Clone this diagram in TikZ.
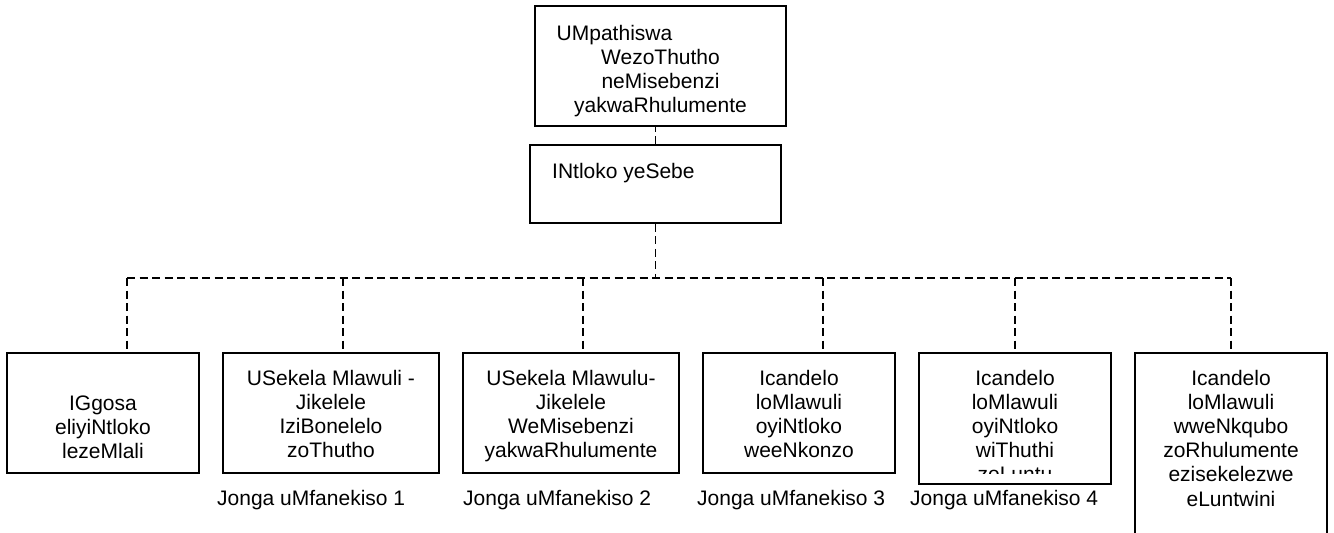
\documentclass[tikz,border=0pt]{standalone}
\usepackage{fontspec}
\setmainfont{Liberation Sans}
\begin{document}
\begin{tikzpicture}[x=1pt,y=-1pt,
  box/.style={draw,line width=1.5pt,inner sep=0pt,minimum width=#1},
  txt/.style={font=\fontsize{21}{24.2}\selectfont,align=center,inner sep=0pt,anchor=base},
  lbl/.style={font=\fontsize{21}{24.2}\selectfont,inner sep=0pt,anchor=base west},
  conn/.style={line width=1.3pt,dash pattern=on 8pt off 4.5pt}]
\useasboundingbox (0,0) rectangle (1334,533);
% boxes
\node[box=251,minimum height=120] (top) at (660.5,66) {};
\node[box=251,minimum height=78] (head) at (655.5,184) {};
\node[box=192,minimum height=120] (b1) at (103,413) {};
\node[box=216,minimum height=120] (b2) at (331,413) {};
\node[box=216,minimum height=120] (b3) at (571,413) {};
\node[box=192,minimum height=120] (b4) at (799,413) {};
\node[box=192,minimum height=131] (b5) at (1015,418.5) {};
\node[box=192,minimum height=192] (b6) at (1231,449) {};
% texts (anchor = baseline of last line)
\node[txt] (ttop) at (660.5,112.6) {UMpathiswa\hspace*{92pt}\\WezoThutho\\neMisebenzi\\yakwaRhulumente};
\node[lbl] (thead) at (552,178) {INtloko yeSebe};
\node[txt] (t1) at (103,458.4) {IGgosa\\eliyiNtloko\\lezeMlali};
\node[txt] (t2) at (331,457.6) {USekela Mlawuli -\\Jikelele\\IziBonelelo\\zoThutho};
\node[txt] (t3) at (571,457.6) {USekela Mlawulu-\\Jikelele\\WeMisebenzi\\yakwaRhulumente};
\node[txt] (t4) at (799,457.6) {Icandelo\\loMlawuli\\oyiNtloko\\weeNkonzo};
\begin{scope}
\clip (919,353) rectangle (1111,473);
\node[txt] (t5) at (1015,481.8) {Icandelo\\loMlawuli\\oyiNtloko\\wiThuthi\\zoLuntu};
\end{scope}
\node[txt] (t6) at (1231,506) {Icandelo\\loMlawuli\\wweNkqubo\\zoRhulumente\\ezisekelezwe\\eLuntwini};
% labels
\node[lbl] (l1) at (217,505) {Jonga uMfanekiso 1};
\node[lbl] (l2) at (463,505) {Jonga uMfanekiso 2};
\node[lbl] (l3) at (697,505) {Jonga uMfanekiso 3};
\node[lbl] (l4) at (910,505) {Jonga uMfanekiso 4};
% connectors
\coordinate (bus) at (655.5,278);
\coordinate (d1) at (127,278);
\coordinate (d2) at (343,278);
\coordinate (d3) at (583,278);
\coordinate (d4) at (823,278);
\coordinate (d5) at (1015,278);
\coordinate (d6) at (1231,278);
\draw[conn] (head.north) -- (head.north |- top.south);
\draw[conn] (head.south) -- (bus);
\draw[conn] (d1) -- (d6);
\draw[conn] (d1) -- (d1 |- b1.north);
\draw[conn] (d2) -- (d2 |- b2.north);
\draw[conn] (d3) -- (d3 |- b3.north);
\draw[conn] (d4) -- (d4 |- b4.north);
\draw[conn] (d5) -- (d5 |- b5.north);
\draw[conn] (d6) -- (d6 |- b6.north);
\end{tikzpicture}
\end{document}
